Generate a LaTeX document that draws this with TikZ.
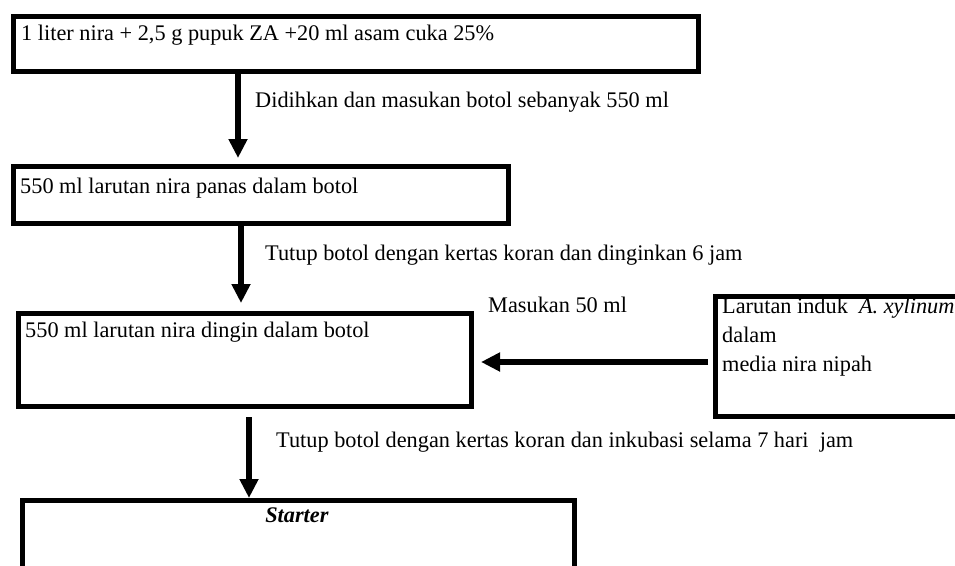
\documentclass[tikz,border=0pt]{standalone}
\usepackage{fontspec}
\setmainfont{Liberation Serif}
\usetikzlibrary{arrows.meta}

\tikzset{
    stepbox/.style={draw, line width=5pt, inner sep=0pt, anchor=north west},
    txt/.style={inner sep=0pt, anchor=base west, font=\fontsize{22.3}{29}\selectfont},
    flow/.style={line width=5.5pt, -{Triangle[width=18pt,length=19pt]}}
}

\begin{document}
\begin{tikzpicture}[x=1pt, y=-1pt]
            \useasboundingbox (0,0) rectangle (955,565);
            \clip (0,0) rectangle (955,565);

            % boxes
            \node[stepbox, minimum width=685pt, minimum height=55pt] (b1) at (11,14) {};
            \node[stepbox, minimum width=495pt, minimum height=57pt] (b2) at (11,164) {};
            \node[stepbox, minimum width=453pt, minimum height=93pt] (b3) at (16,311) {};
            \node[stepbox, minimum width=300pt, minimum height=120pt] (bs) at (713,294) {};
            \node[stepbox, minimum width=552pt, minimum height=120pt] (b4) at (20,498) {};

            % box texts
            \node[txt] (t1) at (21,40) {1 liter nira + 2,5 g pupuk ZA +20 ml asam cuka 25\%};
            \node[txt] (t2) at (20,193) {550 ml larutan nira panas dalam botol};
            \node[txt] (t3) at (25,337) {550 ml larutan nira dingin dalam botol};
            \node[txt, align=left, anchor=north west] (ts) at (722,298)
                {Larutan induk \ \textit{A. xylinum}\\dalam\\media nira nipah};
            \node[txt, anchor=base] (t4) at (297,522) {\textbf{\textit{Starter}}};

            % arrow labels
            \node[txt] (l1) at (255,107) {Didihkan dan masukan botol sebanyak 550 ml};
            \node[txt] (l2) at (265,260) {Tutup botol dengan kertas koran dan dinginkan 6 jam};
            \node[txt] (l3) at (488,312) {Masukan 50 ml};
            \node[txt] (l4) at (276,447) {Tutup botol dengan kertas koran dan inkubasi selama 7 hari \ jam};

            % arrows
            \coordinate (a1) at (238,0);
            \coordinate (a2) at (241,0);
            \coordinate (a3) at (249,0);
            \coordinate (a4) at (0,362);
            \draw[flow] (b1.south -| a1) -- ([yshift=6pt]b2.north -| a1);
            \draw[flow] (b2.south -| a2) -- ([yshift=8pt]b3.north -| a2);
            \draw[flow] ([yshift=-8pt]b3.south -| a3) -- (b4.north -| a3);
            \draw[flow] ([xshift=-5pt]bs.west |- a4) -- ([xshift=7pt]b3.east |- a4);
\end{tikzpicture}
\end{document}
